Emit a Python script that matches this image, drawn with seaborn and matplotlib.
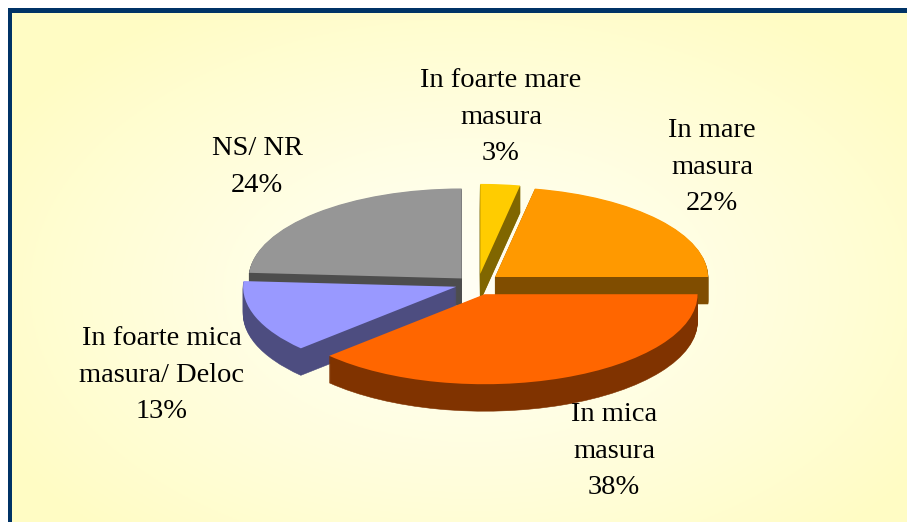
# 3d looking exploded pie on a pale yellow gradient panel

import numpy as np
import matplotlib
matplotlib.use("Agg")
import matplotlib.pyplot as plt
import seaborn as sns

categories = ["In foarte mare\nmasura", "In mare\nmasura", "In mica\nmasura",
              "In foarte mica\nmasura/ Deloc", "NS/ NR"]
values = [3, 22, 38, 13, 24]

top_colors = ["#ffcc00", "#ff9900", "#ff6600", "#9999ff", "#969696"]
side_colors = ["#806600", "#804d00", "#803300", "#4d4d80", "#4d4d4d"]
explode = [24, 26, 26, 19, 18]
nudge_x = [4, 1, 1, 0, 0]
label_pos = [(501, 117), (712, 167), (614, 451), (162, 375), (257, 167)]
draw_order = [4, 0, 1, 3, 2]

W, H = 907, 522
RX, RY = 213, 90
DEPTH = 27
SQUASH = RX / RY


def py(y):
    # picture row to data y, the pie is squashed by the y limits
    return (H - y) * SQUASH


sns.set_theme(style="white")
plt.rcParams["font.family"] = ["Liberation Serif", "DejaVu Serif"]

fig, ax = plt.subplots(figsize=(W / 100, H / 100), dpi=100)
fig.subplots_adjust(0, 0, 1, 1)
fig.patch.set_facecolor("white")

# panel background, white in the middle fading to pale yellow
xx, yy = np.meshgrid(np.linspace(12, W, 300), np.linspace(12, H, 180))
dist = np.clip(np.hypot((xx - 470) / 470, (yy - 290) / 290) / 1.15, 0, 1)
c0 = np.array([1.0, 1.0, 0.96])
c1 = np.array([1.0, 0.99, 0.77])
grad = c0 + (c1 - c0) * dist[..., None] ** 1.2

center = (474, py(284))
for idx in draw_order:
    for k in range(DEPTH, -1, -1):
        cols = [top_colors[i] if k == 0 else side_colors[i] for i in range(5)]
        wedges, _ = ax.pie(values, explode=explode, colors=cols, startangle=90,
                           counterclock=False, radius=RX,
                           center=(center[0] + nudge_x[idx], center[1] - k * SQUASH))
        for i, w in enumerate(wedges):
            if i == idx:
                w.set_zorder(2 + draw_order.index(idx) + (DEPTH - k) * 0.01)
                w.set_linewidth(0.4 if k else 0)
                w.set_edgecolor(cols[i])
            else:
                w.remove()

ax.set_aspect("auto")
ax.set_xlim(0, W)
ax.set_ylim(0, H * SQUASH)
ax.axis("off")
ax.imshow(grad, extent=(12, W, py(H), py(12)), aspect="auto", zorder=0)
ax.set_xlim(0, W)
ax.set_ylim(0, H * SQUASH)

# dark blue border on the left and top only
ax.fill_between([7.5, 12], py(H), py(8), color="#003366", lw=0, zorder=1)
ax.fill_between([7.5, W], py(12.5), py(8), color="#003366", lw=0, zorder=1)

for name, val, (x, y) in zip(categories, values, label_pos):
    ax.text(x, py(y), f"{name}\n{val}%", ha="center", va="center", fontsize=20.5,
            color="black", linespacing=1.59, zorder=10)

fig.savefig("out.png", dpi=100)
plt.close()
